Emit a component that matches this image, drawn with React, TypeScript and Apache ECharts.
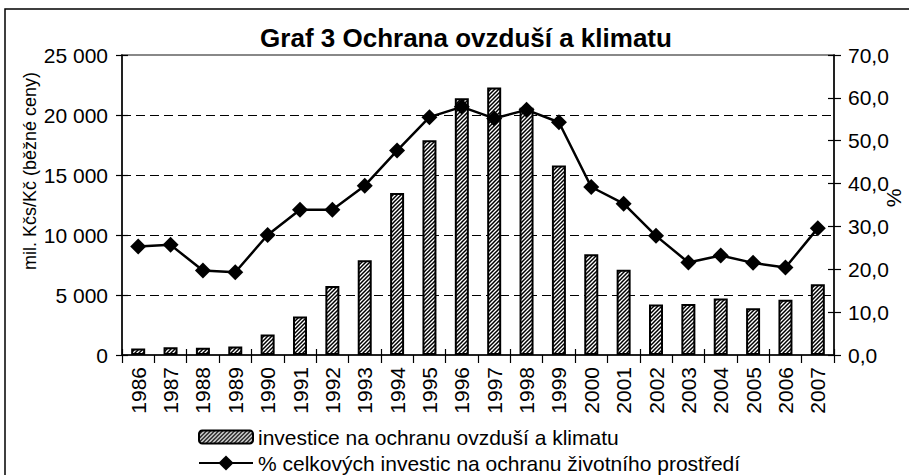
import React, { useEffect, useRef } from "react";
import * as echarts from "echarts";

const years = ["1986","1987","1988","1989","1990","1991","1992","1993","1994","1995","1996","1997","1998","1999","2000","2001","2002","2003","2004","2005","2006","2007"];
const investice = [550, 650, 600, 700, 1700, 3200, 5750, 7900, 13500, 17900, 21400, 22300, 20600, 15800, 8400, 7100, 4200, 4250, 4700, 3900, 4600, 5900];
const podil = [25.3, 25.7, 19.7, 19.3, 28.0, 33.9, 33.9, 39.5, 47.7, 55.5, 57.9, 55.2, 57.2, 54.3, 39.2, 35.3, 27.8, 21.6, 23.2, 21.5, 20.4, 29.6];
const leftTicks = [0, 5000, 10000, 15000, 20000, 25000];
const rightTicks = [0, 10, 20, 30, 40, 50, 60, 70];

const titleText = "Graf 3 Ochrana ovzduší a klimatu";
const barName = "investice na ochranu ovzduší a klimatu";
const lineName = "% celkových investic na ochranu životního prostředí";
const leftAxisName = "mil. Kčs/Kč (běžné ceny)";
const rightAxisName = "%";

const FONT = "'Liberation Sans', Arial, sans-serif";

function makeHatch() {
  const c = document.createElement("canvas");
  c.width = 4;
  c.height = 4;
  const ctx = c.getContext("2d")!;
  ctx.fillStyle = "#ffffff";
  ctx.fillRect(0, 0, 4, 4);
  ctx.strokeStyle = "#000000";
  ctx.lineWidth = 1.5;
  ctx.beginPath();
  ctx.moveTo(-1, 5); ctx.lineTo(5, -1);
  ctx.moveTo(-3, 3); ctx.lineTo(3, -3);
  ctx.moveTo(1, 7); ctx.lineTo(7, 1);
  ctx.stroke();
  return c;
}

const fmtThousands = (v: number) => String(v).replace(/\B(?=(\d{3})+(?!\d))/g, " ");

export default function App() {
  const ref = useRef<HTMLDivElement>(null);
  useEffect(() => {
    if (!ref.current) return;
    const chart = echarts.init(ref.current, undefined, { renderer: "svg" });
    const hatch = { image: makeHatch(), repeat: "repeat" } as any;
    const GRID = { left: 122, right: 75, top: 55, bottom: 120 };
    const legendText = { fontFamily: FONT, fontSize: 21, color: "#000", lineHeight: 22 };
    chart.setOption({
      animation: false,
      backgroundColor: "#ffffff",
      title: {
        text: titleText,
        left: 461,
        top: 33,
        textAlign: "center",
        textVerticalAlign: "middle",
        textStyle: { fontFamily: FONT, fontSize: 26, fontWeight: "bold", color: "#000" },
      },
      grid: { ...GRID, show: true, borderColor: "#888", borderWidth: 2, backgroundColor: "transparent" },
      legend: [
        {
          orient: "vertical",
          left: 198,
          top: 426,
          itemWidth: 54,
          itemHeight: 13,
          itemGap: 4,
          padding: 0,
          textStyle: legendText,
          data: [barName],
        },
        {
          orient: "vertical",
          left: 198,
          top: 452,
          itemWidth: 54,
          itemHeight: 19,
          itemGap: 4,
          padding: 0,
          textStyle: legendText,
          data: [lineName],
        },
      ],
      xAxis: [
        {
          type: "category",
          data: years,
          boundaryGap: true,
          axisLine: { show: true, lineStyle: { color: "#000", width: 1.5 } },
          axisTick: { show: true, length: 8, lineStyle: { color: "#000", width: 1.2 } },
          axisLabel: { rotate: 90, margin: 12, fontFamily: FONT, fontSize: 21, color: "#000" },
          splitLine: { show: false },
        },
        {
          type: "category",
          data: years,
          position: "bottom",
          boundaryGap: true,
          axisLine: { show: false },
          axisTick: { show: true, inside: true, length: 6, lineStyle: { color: "#000", width: 1.2 } },
          axisLabel: { show: false },
          splitLine: { show: false },
        },
      ],
      yAxis: [
        {
          type: "value",
          min: leftTicks[0],
          max: leftTicks[leftTicks.length - 1],
          interval: 5000,
          position: "left",
          axisLine: { show: true, lineStyle: { color: "#000", width: 1.5 } },
          axisTick: { show: true, length: 6, lineStyle: { color: "#000", width: 1.2 } },
          axisLabel: { margin: 14, fontFamily: FONT, fontSize: 21, color: "#000", formatter: (v: number) => fmtThousands(v) },
          splitLine: {
            show: true,
            lineStyle: { color: ["transparent", "#000", "#000", "#000", "#000", "transparent"], type: [9, 5], width: 1 },
          },
        },
        {
          type: "value",
          min: rightTicks[0],
          max: rightTicks[rightTicks.length - 1],
          interval: 10,
          position: "right",
          axisLine: { show: true, lineStyle: { color: "#000", width: 1.5 } },
          axisTick: { show: true, length: 7, lineStyle: { color: "#000", width: 1.2 } },
          axisLabel: { margin: 14, fontFamily: FONT, fontSize: 21, color: "#000", formatter: (v: number) => v.toFixed(1).replace(".", ",") },
          splitLine: { show: false },
        },
        {
          type: "value",
          min: leftTicks[0],
          max: leftTicks[leftTicks.length - 1],
          interval: 5000,
          position: "left",
          axisLine: { show: false },
          axisTick: { show: true, inside: true, length: 6, lineStyle: { color: "#000", width: 1.2 } },
          axisLabel: { show: false },
          splitLine: { show: false },
        },
        {
          type: "value",
          min: rightTicks[0],
          max: rightTicks[rightTicks.length - 1],
          interval: 10,
          position: "right",
          axisLine: { show: false },
          axisTick: { show: true, inside: true, length: 6, lineStyle: { color: "#000", width: 1.2 } },
          axisLabel: { show: false },
          splitLine: { show: false },
        },
      ],
      series: [
        {
          name: barName,
          type: "bar",
          xAxisIndex: 0,
          yAxisIndex: 0,
          data: investice,
          barWidth: 14,
          itemStyle: { color: hatch, borderColor: "#000", borderWidth: 2 },
        },
        {
          name: lineName,
          type: "line",
          xAxisIndex: 0,
          yAxisIndex: 1,
          data: podil,
          symbol: "diamond",
          symbolSize: 16,
          lineStyle: { color: "#000", width: 2.5 },
          itemStyle: { color: "#000" },
          z: 5,
        },
      ],
      graphic: [
        {
          type: "rect",
          shape: { x: 5, y: 9, width: 920, height: 480 },
          style: { fill: "none", stroke: "#000", lineWidth: 1.5 },
          silent: true,
        },
        {
          type: "text",
          x: 30,
          y: 171,
          rotation: Math.PI / 2,
          style: { text: leftAxisName, font: `18px ${FONT}`, fill: "#000", textAlign: "center", textVerticalAlign: "middle" },
        },
        {
          type: "text",
          x: 893,
          y: 198,
          rotation: Math.PI / 2,
          style: { text: rightAxisName, font: `21px ${FONT}`, fill: "#000", textAlign: "center", textVerticalAlign: "middle" },
        },
      ],
    });
    return () => chart.dispose();
  }, []);
  return (
    <div
      ref={ref}
      style={{ position: "absolute", left: 0, top: 0, width: 909, height: 475, background: "#fff" }}
    />
  );
}
